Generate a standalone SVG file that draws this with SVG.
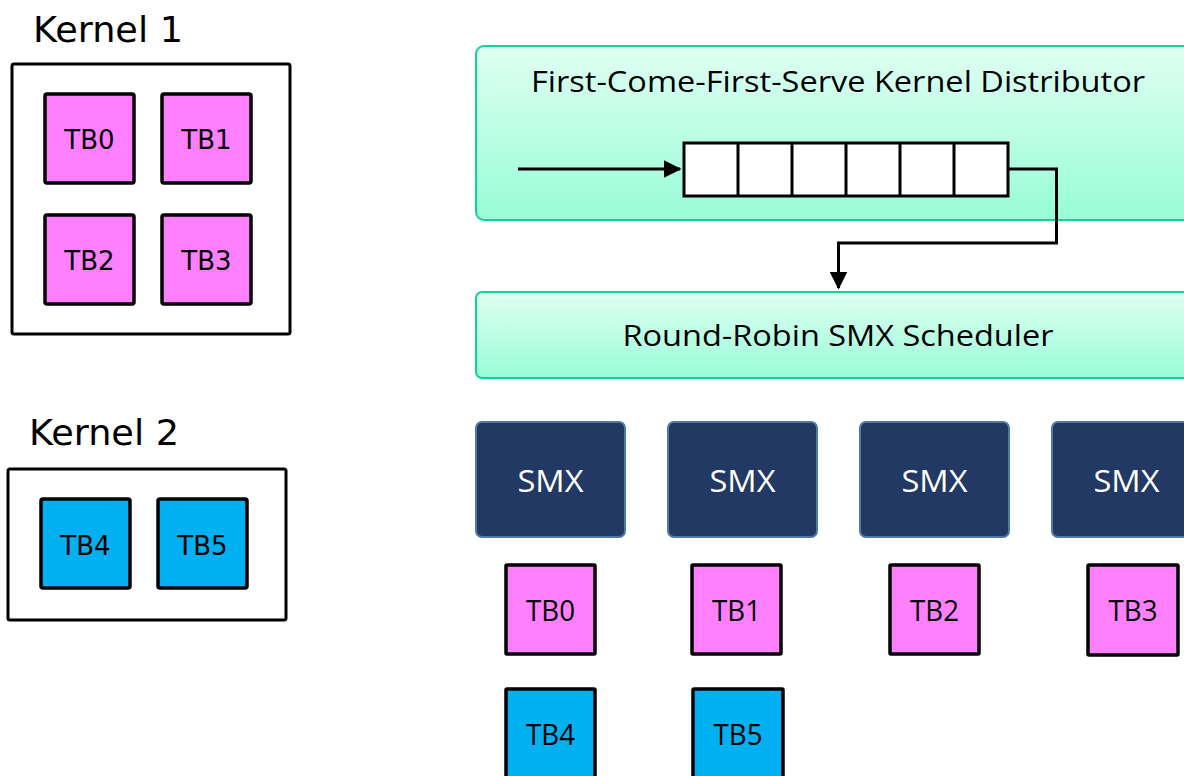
<svg xmlns="http://www.w3.org/2000/svg" width="1184" height="776" viewBox="0 0 1184 776">
  <defs>
    <linearGradient id="mint" x1="0" y1="0" x2="0" y2="1">
      <stop offset="0" stop-color="#e0fff3"/>
      <stop offset="1" stop-color="#97fcd8"/>
    </linearGradient>
    <marker id="arrow" markerWidth="6" markerHeight="6" refX="5.5" refY="3" orient="auto" markerUnits="strokeWidth">
      <path d="M0,0 L6,3 L0,6 Z" fill="#000"/>
    </marker>
    <style>
      .kern { fill: #fff; stroke: #000; stroke-width: 3; }
      .tb { stroke: #000; stroke-width: 3.5; }
      .pink { fill: #ff80ff; }
      .blue { fill: #00b0f0; }
      .stage { fill: url(#mint); stroke: #12d29a; stroke-width: 2; }
      .smx { fill: #223a63; stroke: #4f7aa6; stroke-width: 2; }
      .cell { fill: #fff; stroke: #000; stroke-width: 3; }
      .wire { fill: none; stroke: #000; stroke-width: 3; }
      .ktitle { font-family: "DejaVu Sans", Verdana, sans-serif; font-size: 36px; fill: #000; }
      .ktb { font-family: "DejaVu Sans", Verdana, sans-serif; font-size: 26px; fill: #000; text-anchor: middle; }
      .label { font-family: "Open Sans", "Liberation Sans", sans-serif; fill: #000; text-anchor: middle; }
    </style>
  </defs>

  <!-- Kernel 1 with its four thread blocks -->
  <g id="kernel1">
    <text class="ktitle" x="33" y="42" textLength="150" lengthAdjust="spacingAndGlyphs">Kernel 1</text>
    <rect class="kern" x="12" y="64" width="278" height="270" rx="2"/>
  </g>
  <g id="k1-tb0">
    <rect class="tb pink" x="45" y="94" width="89" height="89" rx="2"/>
    <text class="ktb" x="89.5" y="149">TB0</text>
  </g>
  <g id="k1-tb1">
    <rect class="tb pink" x="162" y="94" width="89" height="89" rx="2"/>
    <text class="ktb" x="206.5" y="149">TB1</text>
  </g>
  <g id="k1-tb2">
    <rect class="tb pink" x="45" y="215" width="89" height="89" rx="2"/>
    <text class="ktb" x="89.5" y="270">TB2</text>
  </g>
  <g id="k1-tb3">
    <rect class="tb pink" x="162" y="215" width="89" height="89" rx="2"/>
    <text class="ktb" x="206.5" y="270">TB3</text>
  </g>

  <!-- Kernel 2 with its two thread blocks -->
  <g id="kernel2">
    <text class="ktitle" x="29" y="445" textLength="150" lengthAdjust="spacingAndGlyphs">Kernel 2</text>
    <rect class="kern" x="8" y="469" width="278" height="151" rx="2"/>
  </g>
  <g id="k2-tb4">
    <rect class="tb blue" x="41" y="499" width="89" height="89" rx="2"/>
    <text class="ktb" x="85.5" y="555">TB4</text>
  </g>
  <g id="k2-tb5">
    <rect class="tb blue" x="158" y="499" width="89" height="89" rx="2"/>
    <text class="ktb" x="202.5" y="555">TB5</text>
  </g>

  <!-- Kernel distributor with its queue -->
  <g id="distributor">
    <rect class="stage" x="476" y="46" width="720" height="174" rx="8"/>
    <text class="label" x="838" y="92" font-size="30" textLength="614" lengthAdjust="spacingAndGlyphs">First-Come-First-Serve Kernel Distributor</text>
  </g>
  <g id="queue">
    <rect class="cell" x="684" y="143" width="324" height="53"/>
    <path class="wire" d="M738,143 V196 M792,143 V196 M846,143 V196 M900,143 V196 M954,143 V196"/>
  </g>

  <!-- SMX scheduler -->
  <g id="scheduler">
    <rect class="stage" x="476" y="292" width="720" height="86" rx="6"/>
    <text class="label" x="838" y="346" font-size="30" textLength="431" lengthAdjust="spacingAndGlyphs">Round-Robin SMX Scheduler</text>
  </g>

  <!-- Streaming multiprocessors -->
  <g id="smx0">
    <rect class="smx" x="476" y="422" width="149" height="115" rx="6"/>
    <text class="label" x="550.5" y="492" font-size="31" fill="#fff" style="fill:#fff" textLength="66" lengthAdjust="spacingAndGlyphs">SMX</text>
  </g>
  <g id="smx1">
    <rect class="smx" x="668" y="422" width="149" height="115" rx="6"/>
    <text class="label" x="742.5" y="492" font-size="31" style="fill:#fff" textLength="66" lengthAdjust="spacingAndGlyphs">SMX</text>
  </g>
  <g id="smx2">
    <rect class="smx" x="860" y="422" width="149" height="115" rx="6"/>
    <text class="label" x="934.5" y="492" font-size="31" style="fill:#fff" textLength="66" lengthAdjust="spacingAndGlyphs">SMX</text>
  </g>
  <g id="smx3">
    <rect class="smx" x="1052" y="422" width="149" height="115" rx="6"/>
    <text class="label" x="1126.5" y="492" font-size="31" style="fill:#fff" textLength="66" lengthAdjust="spacingAndGlyphs">SMX</text>
  </g>

  <!-- Thread blocks placed on the SMXs -->
  <g id="smx-tb0">
    <rect class="tb pink" x="506" y="565" width="89" height="89" rx="1"/>
    <text class="label" x="550.5" y="621" font-size="29" textLength="49" lengthAdjust="spacingAndGlyphs">TB0</text>
  </g>
  <g id="smx-tb1">
    <rect class="tb pink" x="692" y="565" width="89" height="89" rx="1"/>
    <text class="label" x="736.5" y="621" font-size="29" textLength="49" lengthAdjust="spacingAndGlyphs">TB1</text>
  </g>
  <g id="smx-tb2">
    <rect class="tb pink" x="890" y="565" width="89" height="89" rx="1"/>
    <text class="label" x="934.5" y="621" font-size="29" textLength="49" lengthAdjust="spacingAndGlyphs">TB2</text>
  </g>
  <g id="smx-tb3">
    <rect class="tb pink" x="1088" y="565" width="90" height="90" rx="1"/>
    <text class="label" x="1133" y="621" font-size="29" textLength="49" lengthAdjust="spacingAndGlyphs">TB3</text>
  </g>
  <g id="smx-tb4">
    <rect class="tb blue" x="506" y="689" width="89" height="100" rx="1"/>
    <text class="label" x="550.5" y="745" font-size="29" textLength="49" lengthAdjust="spacingAndGlyphs">TB4</text>
  </g>
  <g id="smx-tb5">
    <rect class="tb blue" x="693" y="689" width="90" height="100" rx="1"/>
    <text class="label" x="738" y="745" font-size="29" textLength="49" lengthAdjust="spacingAndGlyphs">TB5</text>
  </g>

  <!-- Connectors -->
  <g id="connectors">
    <path class="wire" d="M518,169 H680" marker-end="url(#arrow)"/>
    <path class="wire" d="M1008,169 H1056.5 V243 H838.5 V288" marker-end="url(#arrow)"/>
  </g>
</svg>
